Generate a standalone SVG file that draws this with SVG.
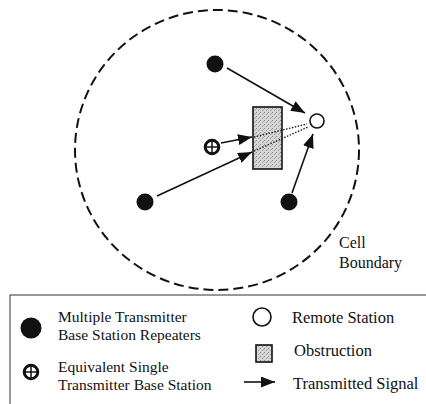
<svg xmlns="http://www.w3.org/2000/svg" width="426" height="404" viewBox="0 0 426 404">
<defs>
<style>
.txt{font-family:"Liberation Serif","Times New Roman",serif;font-size:16.5px;fill:#111}
.lbl{font-size:16px}
.two{font-size:15.5px}
.sig{stroke:#111;stroke-width:1.6;fill:none}
.dot{fill:#111}
.dotted{stroke:#222;stroke-width:1.4;stroke-dasharray:1.5 1.5;fill:none}
.obs{fill:url(#stip);stroke:#111;stroke-width:1.6}
</style>
<pattern id="stip" width="4" height="4" patternUnits="userSpaceOnUse">
<rect width="4" height="4" fill="#d6d6d6"/>
<rect x="0" y="0" width="1" height="1" fill="#888"/>
<rect x="2" y="2" width="1" height="1" fill="#999"/>
<rect x="3" y="1" width="1" height="1" fill="#aaa"/>
</pattern>
<marker id="ah" viewBox="0 0 14 11" refX="14" refY="5.5" markerWidth="14" markerHeight="11" markerUnits="userSpaceOnUse" orient="auto">
<path d="M0,0 L14,5.5 L0,11 Z" fill="#111"/>
</marker>
<symbol id="cross" viewBox="-9 -9 18 18" overflow="visible">
<circle r="6.8" fill="none" stroke="#111" stroke-width="3"/>
<line x1="-6.8" y1="0" x2="6.8" y2="0" stroke="#111" stroke-width="1.5"/>
<line x1="0" y1="-6.8" x2="0" y2="6.8" stroke="#111" stroke-width="1.5"/>
</symbol>
</defs>
<rect width="426" height="404" fill="#fff"/>

<g id="cell-boundary">
<ellipse cx="217" cy="150" rx="142" ry="140" fill="none" stroke="#111" stroke-width="2" stroke-dasharray="10 5"/>
<text class="txt lbl" x="339" y="248">Cell<tspan x="339" y="268">Boundary</tspan></text>
</g>

<g id="obstruction">
<rect class="obs" x="253" y="107" width="29" height="62"/>
</g>

<g id="connectors">
<line class="sig" x1="227" y1="68" x2="305" y2="113" marker-end="url(#ah)"/>
<line class="sig" x1="221" y1="143" x2="252" y2="137" marker-end="url(#ah)"/>
<line class="sig" x1="157" y1="196" x2="252" y2="152" marker-end="url(#ah)"/>
<line class="sig" x1="292" y1="193" x2="313" y2="134" marker-end="url(#ah)"/>
<line class="dotted" x1="254" y1="137" x2="307" y2="124"/>
<line class="dotted" x1="254" y1="151" x2="308" y2="127"/>
</g>

<g id="repeater-top"><circle class="dot" cx="215" cy="64" r="8.5"/></g>
<g id="repeater-left"><circle class="dot" cx="145" cy="202" r="8.5"/></g>
<g id="repeater-right"><circle class="dot" cx="289" cy="202" r="8.5"/></g>
<g id="single-base"><use href="#cross" x="203" y="138" width="18" height="18"/></g>
<g id="remote-station"><circle cx="317" cy="121" r="7" fill="#fff" stroke="#111" stroke-width="1.6"/></g>

<g id="legend">
<rect x="10" y="295" width="440" height="130" fill="none" stroke="#333" stroke-width="1"/>
<circle class="dot" cx="31" cy="328" r="10.5"/>
<text class="txt two" x="58" y="322">Multiple Transmitter<tspan x="58" y="339.5">Base Station Repeaters</tspan></text>
<use href="#cross" x="22" y="363" width="18" height="18"/>
<text class="txt two" x="58" y="372">Equivalent Single<tspan x="58" y="389.5">Transmitter Base Station</tspan></text>
<circle cx="262" cy="317" r="9" fill="#fff" stroke="#111" stroke-width="1.6"/>
<text class="txt" x="292" y="323">Remote Station</text>
<rect class="obs" x="256" y="345" width="16" height="17"/>
<text class="txt" x="294" y="356">Obstruction</text>
<line class="sig" x1="244" y1="382" x2="275" y2="382" marker-end="url(#ah)"/>
<text class="txt" x="293" y="389">Transmitted Signal</text>
</g>
</svg>
